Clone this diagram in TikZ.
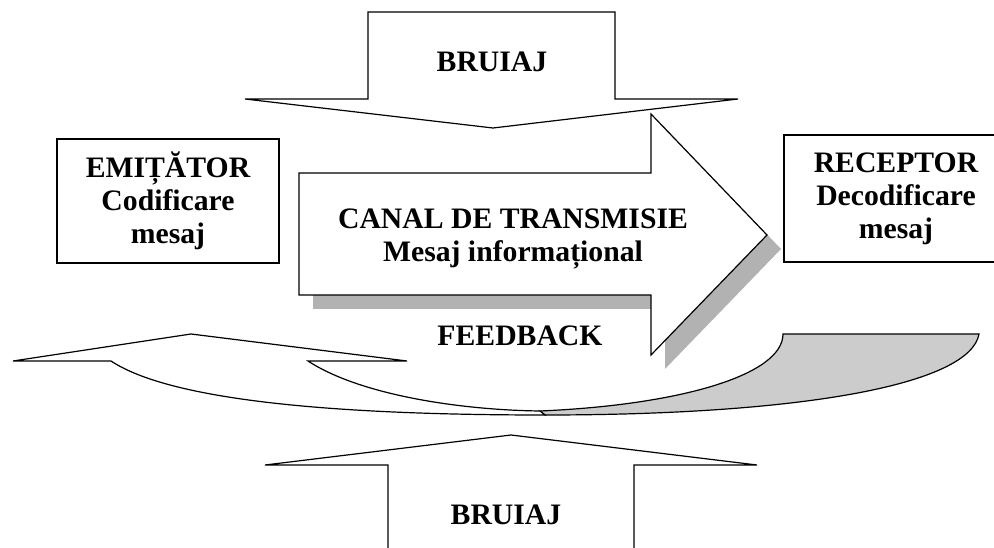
\documentclass[tikz,border=0pt]{standalone}
\usepackage{fontspec}
\setmainfont{Liberation Serif}
\begin{document}
\begin{tikzpicture}[x=1pt,y=-1pt,
  shp/.style={draw=black, line width=1.2pt, fill=white, line join=miter},
  shadowfill/.style={fill=black!30, draw=none},
  fbgray/.style={draw=black, line width=1.2pt, fill=black!20},
  lbl/.style={font=\fontsize{29.7}{33}\selectfont\bfseries, align=center, inner sep=0pt},
  boxn/.style={lbl, draw=black, line width=1.2pt, fill=white}]
\useasboundingbox (0,0) rectangle (994,548);
\clip (0,0) rectangle (994,548);
% top BRUIAJ arrow (down)
\draw[shp] (368,12) -- (615,12) -- (615,99) -- (738,99) -- (493,128) -- (245,99) -- (368,99) -- cycle;
\node[lbl, anchor=base] (bruiajtop) at (492,72) {BRUIAJ};
% main arrow shadow + arrow
\fill[shadowfill] (313,187) -- (665,187) -- (665,128) -- (781,249) -- (665,369) -- (665,309) -- (313,309) -- cycle;
\draw[shp] (299,173) -- (651,173) -- (651,114) -- (767,235) -- (651,355) -- (651,295) -- (299,295) -- cycle;
\node[lbl] (canal) at (513,239) {CANAL DE TRANSMISIE\\Mesaj informațional};
% boxes
\node[boxn, minimum width=222pt, minimum height=124pt] (emit) at (168,201) {EMIȚĂTOR\\Codificare\\mesaj};
\node[boxn, minimum width=224pt, minimum height=127pt] (recv) at (896,198.5) {RECEPTOR\\Decodificare\\mesaj};
% feedback curved arrow
\draw[fbgray] (540,411) .. controls (680,405) and (783,375) .. (783,334) -- (979,334)
  .. controls (970,385) and (800,415) .. (545,415) -- cycle;
\draw[shp] (13,361) -- (111,361) .. controls (170,400) and (330,415) .. (545,415) -- (540,411)
  .. controls (460,410) and (360,395) .. (308,361) -- (407,361) -- (191,334) -- cycle;
\node[lbl, anchor=base] (feedback) at (520,345) {FEEDBACK};
% bottom BRUIAJ arrow (up)
\draw[shp] (388,560) -- (388,465) -- (265,465) -- (511,435) -- (757,465) -- (634,465) -- (634,560);
\node[lbl, anchor=base] (bruiajbot) at (506,524) {BRUIAJ};
\end{tikzpicture}
\end{document}
